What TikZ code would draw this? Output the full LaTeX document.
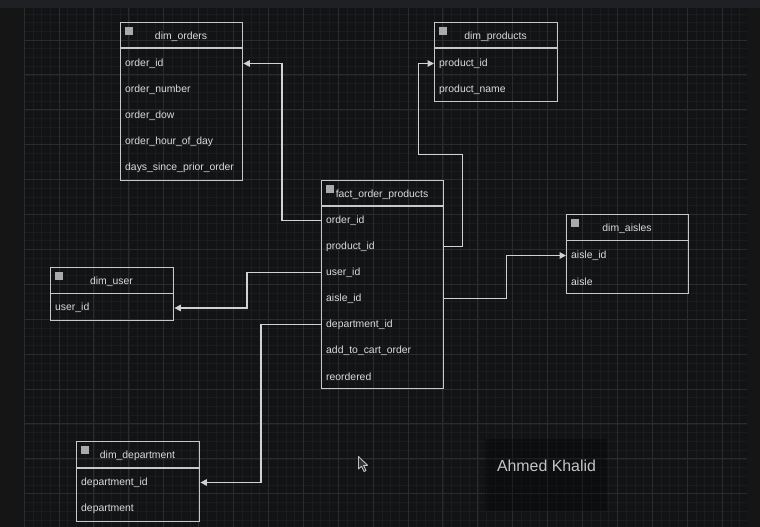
\documentclass[tikz,border=0pt]{standalone}
\usepackage{fontspec}
\setmainfont{Liberation Sans}
\usetikzlibrary{arrows.meta}
\definecolor{bgc}{HTML}{121315}
\definecolor{topbar}{HTML}{1E2024}
\definecolor{sidebar}{HTML}{151516}
\definecolor{minorg}{HTML}{1B1C1E}
\definecolor{majorg}{HTML}{2A2B2D}
\definecolor{boxline}{HTML}{C8C8C8}
\definecolor{txtc}{HTML}{DCDCDC}
\definecolor{connc}{HTML}{D2D2D2}
\definecolor{signc}{HTML}{C4C4C4}
\begin{document}
\begin{tikzpicture}[x=1pt,y=-1pt,
  tbox/.style={draw=boxline, line width=1.4pt, anchor=north west, inner sep=0pt},
  rowtxt/.style={anchor=west, inner xsep=5pt, inner ysep=0pt, yshift=-1.5pt, text=txtc, font=\fontsize{10.4}{12}\selectfont},
  titletxt/.style={text=txtc, inner sep=0pt, yshift=-1.2pt, font=\fontsize{10.4}{12}\selectfont},
  hline/.style={draw=boxline, line width=1.4pt},
  icon/.style={fill=boxline!85!black},
  conn/.style={draw=connc, line width=1.4pt, -{Triangle[length=6.5pt,width=6.5pt]}}]
\useasboundingbox (0,0) rectangle (760,527);
\fill[bgc] (0,0) rectangle (760,527);
% grid
\foreach \k in {0,...,82}{\pgfmathsetmacro\xx{24.1+\k*8.725}\draw[minorg,line width=0.6pt] (\xx,8) -- (\xx,527);}
\foreach \k in {1,...,59}{\pgfmathsetmacro\yy{5.1+\k*8.725}\draw[minorg,line width=0.6pt] (24,\yy) -- (747,\yy);}
\foreach \k in {0,...,20}{\pgfmathsetmacro\xx{24.1+\k*34.9}\draw[majorg,line width=0.9pt] (\xx,8) -- (\xx,527);}
\foreach \k in {1,...,14}{\pgfmathsetmacro\yy{5.1+\k*34.9}\draw[majorg,line width=0.9pt] (24,\yy) -- (747,\yy);}
\fill[sidebar] (0,8) rectangle (23.6,527);
\fill[sidebar] (747,8) rectangle (760,527);
\fill[topbar] (0,0) rectangle (760,8);
% watermark area
\fill[black,opacity=0.3] (485,439) rectangle (607,511);

% dim_orders
\node[tbox, minimum width=122pt, minimum height=157.5pt] (orders) at (120,22) {};
\draw[hline] (120,48) -- (242,48);
\fill[icon] (125,27) rectangle (133,35);
\node[titletxt] (orders-t) at (181,35.5) {dim\_orders};
\node[rowtxt] (o-id) at (120,62) {order\_id};
\node[rowtxt] (o-num) at (120,88) {order\_number};
\node[rowtxt] (o-dow) at (120,114) {order\_dow};
\node[rowtxt] (o-hod) at (120,140) {order\_hour\_of\_day};
\node[rowtxt] (o-dsp) at (120,166) {days\_since\_prior\_order};

% dim_products
\node[tbox, minimum width=123pt, minimum height=79pt] (prod) at (434,22) {};
\draw[hline] (434,48) -- (557,48);
\fill[icon] (439,27) rectangle (447,35);
\node[titletxt] (prod-t) at (495.5,35.5) {dim\_products};
\node[rowtxt] (p-id) at (434,62) {product\_id};
\node[rowtxt] (p-name) at (434,88) {product\_name};

% fact_order_products
\node[tbox, minimum width=122pt, minimum height=208pt] (fact) at (321,180) {};
\draw[hline] (321,206) -- (443,206);
\fill[icon] (326,185) rectangle (334,193);
\node[titletxt] (fact-t) at (382,193.5) {fact\_order\_products};
\node[rowtxt] (f-order) at (321,219) {order\_id};
\node[rowtxt] (f-prod) at (321,245) {product\_id};
\node[rowtxt] (f-user) at (321,271) {user\_id};
\node[rowtxt] (f-aisle) at (321,297) {aisle\_id};
\node[rowtxt] (f-dept) at (321,323) {department\_id};
\node[rowtxt] (f-cart) at (321,349) {add\_to\_cart\_order};
\node[rowtxt] (f-re) at (321,375) {reordered};

% dim_user
\node[tbox, minimum width=123pt, minimum height=53pt] (user) at (50,267) {};
\draw[hline] (50,293.5) -- (173,293.5);
\fill[icon] (55,272) rectangle (63,280);
\node[titletxt] (user-t) at (111.5,280.5) {dim\_user};
\node[rowtxt] (u-id) at (50,306.5) {user\_id};

% dim_aisles
\node[tbox, minimum width=122pt, minimum height=79pt] (aisles) at (566,214) {};
\draw[hline] (566,240.5) -- (688,240.5);
\fill[icon] (571,219) rectangle (579,227);
\node[titletxt] (aisles-t) at (627,227.5) {dim\_aisles};
\node[rowtxt] (a-id) at (566,254) {aisle\_id};
\node[rowtxt] (a-name) at (566,280) {aisle};

% dim_department
\node[tbox, minimum width=123pt, minimum height=80pt] (dept) at (76,441) {};
\draw[hline] (76,468) -- (199,468);
\fill[icon] (81,446) rectangle (89,454);
\node[titletxt] (dept-t) at (137.5,454.5) {dim\_department};
\node[rowtxt] (d-id) at (76,481) {department\_id};
\node[rowtxt] (d-name) at (76,507) {department};

% connectors
\draw[conn] (f-order.west) -- ++(-39,0) |- (orders.east |- o-id.west);
\draw[conn] (fact.east |- f-prod.west) -- ++(18,0) -- ++(0,-92) -- ++(-44,0) |- (p-id.west);
\draw[conn] (f-user.west) -- ++(-74,0) |- (user.east |- u-id.west);
\draw[conn] (fact.east |- f-aisle.west) -- ++(62,0) |- (a-id.west);
\draw[conn] (f-dept.west) -- ++(-60,0) |- (dept.east |- d-id.west);

% signature
\node[text=signc, inner sep=0pt, font=\fontsize{15.9}{18}\selectfont] (sig) at (546.5,466) {Ahmed Khalid};

% mouse cursor
\draw[fill=black!80, draw=black!25, line width=0.9pt, line join=round]
  (358.5,456.5) -- (358.5,469) -- (361.5,466.2) -- (364,471.5) -- (366,470.6) -- (363.6,465.3) -- (367.5,465.3) -- cycle;
\end{tikzpicture}
\end{document}
